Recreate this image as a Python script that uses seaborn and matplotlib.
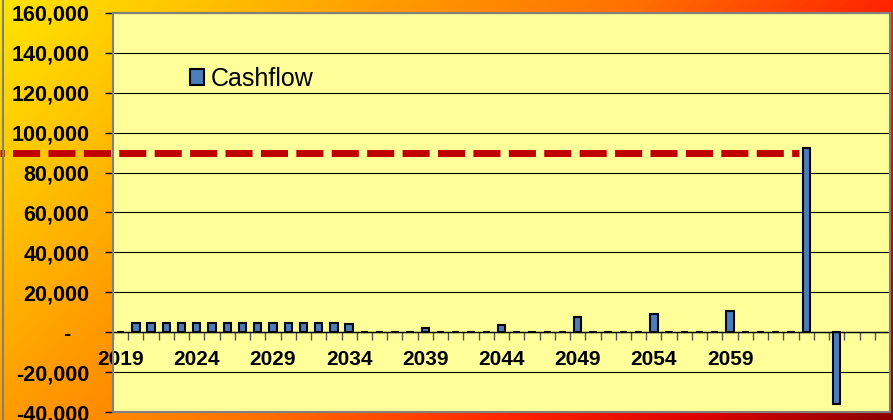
import numpy as np
import pandas as pd
import matplotlib
matplotlib.use("Agg")
import matplotlib.pyplot as plt
from matplotlib.colors import LinearSegmentedColormap
from matplotlib.patches import Rectangle, Patch
from matplotlib.lines import Line2D
import seaborn as sns

# Data
years = [str(y) for y in range(2019, 2070)]
cashflow = [
    0,
    4600, 4600, 4600, 4600, 4600, 4600, 4600, 4600, 4600, 4600, 4600, 4600, 4600, 4600,
    4200,
    0, 0, 0, 0, 2200,
    0, 0, 0, 0, 3800,
    0, 0, 0, 0, 7700,
    0, 0, 0, 0, 9200,
    0, 0, 0, 0, 10400,
    0, 0, 0, 0, 92400,
    np.nan, -36200,
    np.nan, np.nan, np.nan,
]
labelled_years = ["2019", "2024", "2029", "2034", "2039", "2044", "2049", "2054", "2059"]
target_level = 89800
y_ticks = [-40000, -20000, 0, 20000, 40000, 60000, 80000, 100000, 120000, 140000, 160000]

BAR_COLOR = "#4A7EBB"

sns.set_theme(style="white")
plt.rcParams["font.family"] = ["Liberation Sans", "DejaVu Sans"]

df = pd.DataFrame({"year": years, "cashflow": cashflow})

fig = plt.figure(figsize=(8.93, 4.2), dpi=100)

# gradient background of the chart area
bg = fig.add_axes([0, 0, 1, 1], zorder=0)
xx, yy = np.meshgrid(np.linspace(0, 1, 893), np.linspace(0, 1, 420))
shade = 0.7 * xx + 0.3 * yy
cmap = LinearSegmentedColormap.from_list(
    "bg",
    [(0, "#FFE400"), (0.15, "#FFC400"), (0.3, "#FF9C00"), (0.5, "#FF7000"),
     (0.7, "#FF2400"), (0.85, "#DD0000"), (1, "#8C0000")],
)
bg.imshow(shade, cmap=cmap, aspect="auto", extent=[0, 1, 0, 1], origin="upper")
bg.axis("off")
fig.add_artist(Line2D([2.5 / 893, 2.5 / 893], [0, 1], color="#808080", lw=1.5,
                      transform=fig.transFigure))

ax = fig.add_axes([113 / 893, 8 / 420, 777 / 893, 399 / 420], zorder=1)
ax.set_facecolor("#FFFF99")

sns.barplot(data=df.dropna(), x="year", y="cashflow", order=years,
            color=BAR_COLOR, saturation=1, width=0.48,
            edgecolor="black", linewidth=1.5, errorbar=None, ax=ax)

ax.set_xlim(-0.5, len(years) - 0.5)
ax.set_ylim(-40000, 160000)
ax.set_xlabel("")
ax.set_ylabel("")

# spines first: moving a spine resets its axis ticks
ax.spines["bottom"].set_position(("data", 0))
ax.spines["bottom"].set_color("black")
ax.spines["bottom"].set_linewidth(1)
for side in ["left", "top", "right"]:
    ax.spines[side].set_visible(False)
ax.add_patch(Rectangle((0, 0), 1, 1, transform=ax.transAxes, fill=False,
                       edgecolor="#808080", lw=1.5, clip_on=False, zorder=6))

# y axis
ax.set_yticks(y_ticks)
ax.set_yticklabels(["-   " if v == 0 else f"{v:,.0f}" for v in y_ticks],
                   fontweight="bold", fontsize=15.5, color="black")
ax.yaxis.grid(True, color="black", lw=0.8)
ax.set_axisbelow(True)
ax.tick_params(axis="y", left=True, length=6, width=1, color="black", pad=11)

# x axis sits on the zero line
ax.set_xticks([years.index(y) for y in labelled_years])
ax.set_xticklabels(labelled_years, fontweight="bold", fontsize=15, color="black")
ax.set_xticks(np.arange(-0.5, len(years), 1), minor=True)
ax.tick_params(axis="x", which="major", bottom=True, length=0, pad=13)
ax.tick_params(axis="x", which="minor", bottom=True, length=6, width=1, color="#555555")

# target level line, running out past the axis to the left
ax.axhline(target_level, xmin=-113 / 777, xmax=(799 - 113) / 777, color="#C00000",
           lw=5, linestyle=(3.3, (3.9, 1.2)), clip_on=False, zorder=5)

handle = Patch(facecolor=BAR_COLOR, edgecolor="black", lw=1.5)
ax.legend([handle], ["Cashflow"], loc="center left", bbox_to_anchor=(0.099, 0.835),
          frameon=False, fontsize=18, handlelength=0.55, handleheight=0.55,
          handletextpad=0.3, borderpad=0, borderaxespad=0, labelcolor="black")

fig.savefig("out.png", dpi=100)
